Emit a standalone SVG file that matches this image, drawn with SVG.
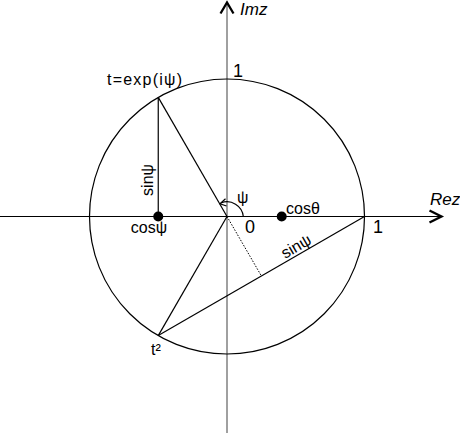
<svg xmlns="http://www.w3.org/2000/svg" width="460" height="438" viewBox="0 0 460 438">
<style>
.ln{stroke:#000;stroke-width:1.2;fill:none}
.ar{stroke:#000;stroke-width:2.3;fill:none;stroke-linejoin:miter}
.t{font-family:"Liberation Sans",Arial,sans-serif;font-size:16px;fill:#000}
.it{font-style:italic;font-size:17px}
.big{font-size:18px}
</style>
<rect width="460" height="438" fill="#fff"/>
<g id="axes">
<line x1="227" y1="433" x2="227" y2="3" stroke="#808080" stroke-width="1.5"/>
<polyline points="220.5,13.5 227,2.5 233.5,13.5" class="ar"/>
<line x1="0" y1="216.5" x2="442" y2="216.5" class="ln"/>
<polyline points="429.5,210.5 441.5,216.5 429.5,222.5" class="ar"/>
<text class="t it" x="240" y="15">Imz</text>
<text class="t it" x="430" y="205">Rez</text>
</g>
<g id="circle">
<circle cx="227" cy="216.5" r="137.5" class="ln"/>
</g>
<g id="connectors">
<line x1="158.25" y1="97.4" x2="158.25" y2="216.5" class="ln"/>
<line x1="158.25" y1="97.4" x2="227" y2="216.5" class="ln"/>
<line x1="158.25" y1="335.6" x2="227" y2="216.5" class="ln"/>
<line x1="158.25" y1="335.6" x2="364.5" y2="216.5" class="ln"/>
<line x1="227" y1="216.5" x2="261.4" y2="276" stroke="#000" stroke-width="1" stroke-dasharray="1.5,1.5"/>
<path d="M243.3,216.5 A16.3,16.3 0 0 0 221,203" class="ln"/>
<polyline points="225.5,198.8 220,203.8 226.5,206" class="ln"/>
</g>
<g id="t">
<text class="t" x="107" y="85" font-size="17" textLength="75" lengthAdjust="spacing">t=exp(iψ)</text>
</g>
<g id="cospsi">
<circle cx="158.25" cy="216.5" r="5" fill="#000"/>
<text class="t" x="149" y="233" text-anchor="middle">cosψ</text>
</g>
<g id="sinpsi-v">
<text class="t" transform="translate(153,180) rotate(-90)" text-anchor="middle">sinψ</text>
</g>
<g id="costheta">
<circle cx="281.7" cy="216.5" r="5" fill="#000"/>
<text class="t" x="286" y="214">cosθ</text>
</g>
<g id="sinpsi-chord">
<text class="t" transform="translate(285,259) rotate(-30)">sinψ</text>
</g>
<g id="labels">
<text class="t" x="237" y="203" font-size="18">ψ</text>
<text class="t big" x="245" y="233">0</text>
<text class="t big" x="373" y="233">1</text>
<text class="t big" x="233" y="77">1</text>
<text class="t" x="151" y="355">t²</text>
</g>
</svg>
